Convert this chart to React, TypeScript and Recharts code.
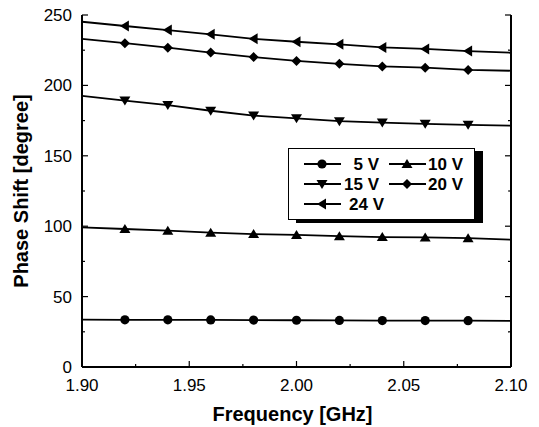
import React from 'react';
import { LineChart, Line, XAxis, YAxis } from 'recharts';

const freqs = [1.9, 1.92, 1.94, 1.96, 1.98, 2.0, 2.02, 2.04, 2.06, 2.08, 2.1];
const v5 = [33.6, 33.5, 33.5, 33.4, 33.3, 33.2, 33.1, 33.0, 33.0, 32.9, 32.8];
const v10 = [99.2, 98.0, 96.8, 95.4, 94.4, 93.8, 92.9, 92.3, 92.0, 91.5, 90.4];
const v15 = [192.5, 189.2, 186.0, 182.0, 178.6, 176.6, 174.6, 173.6, 172.7, 172.0, 171.4];
const v20 = [233.0, 230.0, 226.8, 223.3, 220.1, 217.4, 215.3, 213.5, 212.6, 211.0, 210.4];
const v24 = [245.2, 242.2, 239.3, 236.3, 233.1, 231.0, 229.2, 227.0, 225.9, 224.4, 223.2];

const xTicks = [1.9, 1.925, 1.95, 1.975, 2.0, 2.025, 2.05, 2.075, 2.1];
const yTicks = [0, 25, 50, 75, 100, 125, 150, 175, 200, 225, 250];

const seriesNames = ['5 V', '10 V', '15 V', '20 V', '24 V'];
const seriesKeys = ['v5', 'v10', 'v15', 'v20', 'v24'];
const seriesShapes = ['circle', 'up', 'down', 'diamond', 'left'];

const rows = freqs.map((f, i) => ({
  f,
  v5: v5[i],
  v10: v10[i],
  v15: v15[i],
  v20: v20[i],
  v24: v24[i],
}));

const FONT = '"Liberation Sans", Arial, Helvetica, sans-serif';

const isMajorX = (v: number) => Math.round(v * 1000) % 50 === 0;
const isMajorY = (v: number) => Math.round(v) % 50 === 0;

function Marker({ shape, cx, cy }: { shape: string; cx: number; cy: number }) {
  const s = 5;
  if (shape === 'circle') return <circle cx={cx} cy={cy} r={4.6} fill="#000" />;
  if (shape === 'up')
    return <polygon points={`${cx},${cy - s} ${cx + s + 0.5},${cy + s - 1} ${cx - s - 0.5},${cy + s - 1}`} fill="#000" />;
  if (shape === 'down')
    return <polygon points={`${cx},${cy + s} ${cx + s + 0.5},${cy - s + 1} ${cx - s - 0.5},${cy - s + 1}`} fill="#000" />;
  if (shape === 'diamond')
    return <polygon points={`${cx},${cy - s} ${cx + s},${cy} ${cx},${cy + s} ${cx - s},${cy}`} fill="#000" />;
  return <polygon points={`${cx - s},${cy} ${cx + s - 1},${cy - s - 0.5} ${cx + s - 1},${cy + s + 0.5}`} fill="#000" />;
}

const makeDot = (shape: string) => (props: any) => {
  const { cx, cy, index } = props;
  if (index === 0 || index === freqs.length - 1 || cx == null || cy == null) return <g key={`d${index}`} />;
  return <Marker key={`d${index}`} shape={shape} cx={cx} cy={cy} />;
};

const BottomTick = (props: any) => {
  const { x, y, payload } = props;
  const v = payload.value;
  const major = isMajorX(v);
  return (
    <g>
      <line x1={x} x2={x} y1={y} y2={y - (major ? 6 : 3)} stroke="#000" strokeWidth={1.2} />
      {major && (
        <text x={x} y={y + 24} textAnchor="middle" fontSize={17} fontFamily={FONT} fill="#000">
          {v.toFixed(2)}
        </text>
      )}
    </g>
  );
};

const TopTick = (props: any) => {
  const { x, y, payload } = props;
  const major = isMajorX(payload.value);
  return <line x1={x} x2={x} y1={y} y2={y + (major ? 6 : 3)} stroke="#000" strokeWidth={1.2} />;
};

const LeftTick = (props: any) => {
  const { x, y, payload } = props;
  const v = payload.value;
  const major = isMajorY(v);
  return (
    <g>
      <line x1={x} x2={x + (major ? 6 : 3)} y1={y} y2={y} stroke="#000" strokeWidth={1.2} />
      {major && (
        <text x={x - 10} y={y + 6} textAnchor="end" fontSize={17} fontFamily={FONT} fill="#000">
          {String(v)}
        </text>
      )}
    </g>
  );
};

const RightTick = (props: any) => {
  const { x, y, payload } = props;
  const major = isMajorY(payload.value);
  return <line x1={x} x2={x - (major ? 6 : 3)} y1={y} y2={y} stroke="#000" strokeWidth={1.2} />;
};

const legendItems = [
  { i: 0, lx: 15, ty: 15, tx: 90, anchor: 'end' },
  { i: 1, lx: 100, ty: 15, tx: 139, anchor: 'start' },
  { i: 2, lx: 15, ty: 35, tx: 90, anchor: 'end' },
  { i: 3, lx: 100, ty: 35, tx: 139, anchor: 'start' },
  { i: 4, lx: 15, ty: 55, tx: 60, anchor: 'start' },
];

function LegendBox() {
  return (
    <div
      style={{
        position: 'absolute',
        left: 288,
        top: 148,
        width: 187,
        height: 72,
        boxSizing: 'border-box',
        border: '1.5px solid #000',
        background: '#fff',
        boxShadow: '8px 3px 0 #000',
      }}
    >
      <svg width={185} height={70} style={{ display: 'block', position: 'absolute', left: 0, top: 0 }}>
        {legendItems.map((it) => (
          <g key={it.i}>
            <line x1={it.lx} x2={it.lx + 37} y1={it.ty} y2={it.ty} stroke="#000" strokeWidth={1.8} />
            <Marker shape={seriesShapes[it.i]} cx={it.lx + 18} cy={it.ty} />
            <text
              x={it.tx}
              y={it.ty + 6}
              textAnchor={it.anchor as any}
              fontSize={17}
              fontWeight="bold"
              fontFamily={FONT}
              fill="#000"
            >
              {seriesNames[it.i]}
            </text>
          </g>
        ))}
      </svg>
    </div>
  );
}

export default function App() {
  return (
    <div
      style={{
        position: 'absolute',
        left: 0,
        top: 0,
        width: 539,
        height: 427,
        background: '#fff',
        fontFamily: FONT,
      }}
    >
      <LineChart width={539} height={427} data={rows} margin={{ top: 15, right: 0, bottom: 0, left: 0 }}>
        <XAxis
          xAxisId="b"
          dataKey="f"
          type="number"
          domain={[1.9, 2.1]}
          ticks={xTicks}
          interval={0}
          height={60}
          tickSize={0}
          tickMargin={0}
          tickLine={false}
          axisLine={{ stroke: '#000', strokeWidth: 2 }}
          tick={<BottomTick />}
          allowDataOverflow
          label={(p: any) => {
            const vb = p.viewBox || {};
            return (
              <text
                x={vb.x + vb.width / 2 - 4}
                y={421}
                textAnchor="middle"
                fontSize={20}
                fontWeight="bold"
                fontFamily={FONT}
                fill="#000"
              >
                Frequency [GHz]
              </text>
            );
          }}
        />
        <XAxis
          xAxisId="t"
          dataKey="f"
          type="number"
          orientation="top"
          domain={[1.9, 2.1]}
          ticks={xTicks}
          interval={0}
          height={0}
          tickSize={0}
          tickMargin={0}
          tickLine={false}
          axisLine={{ stroke: '#000', strokeWidth: 2 }}
          tick={<TopTick />}
          allowDataOverflow
        />
        <YAxis
          yAxisId="l"
          type="number"
          domain={[0, 250]}
          ticks={yTicks}
          interval={0}
          width={82}
          tickSize={0}
          tickMargin={0}
          tickLine={false}
          axisLine={{ stroke: '#000', strokeWidth: 2 }}
          tick={<LeftTick />}
          allowDataOverflow
          label={(p: any) => {
            const vb = p.viewBox || {};
            const cy = vb.y + vb.height / 2;
            return (
              <text
                x={28}
                y={cy}
                transform={`rotate(-90, 28, ${cy})`}
                textAnchor="middle"
                fontSize={20}
                fontWeight="bold"
                fontFamily={FONT}
                fill="#000"
              >
                Phase Shift [degree]
              </text>
            );
          }}
        />
        <YAxis
          yAxisId="r"
          orientation="right"
          type="number"
          domain={[0, 250]}
          ticks={yTicks}
          interval={0}
          width={28}
          tickSize={0}
          tickMargin={0}
          tickLine={false}
          axisLine={{ stroke: '#000', strokeWidth: 2 }}
          tick={<RightTick />}
          allowDataOverflow
        />
        {seriesKeys.map((k, i) => (
          <Line
            key={k}
            xAxisId="b"
            yAxisId="l"
            dataKey={k}
            name={seriesNames[i]}
            type="linear"
            stroke="#000"
            strokeWidth={1.8}
            dot={makeDot(seriesShapes[i])}
            activeDot={false}
            isAnimationActive={false}
          />
        ))}
      </LineChart>
      <LegendBox />
    </div>
  );
}
